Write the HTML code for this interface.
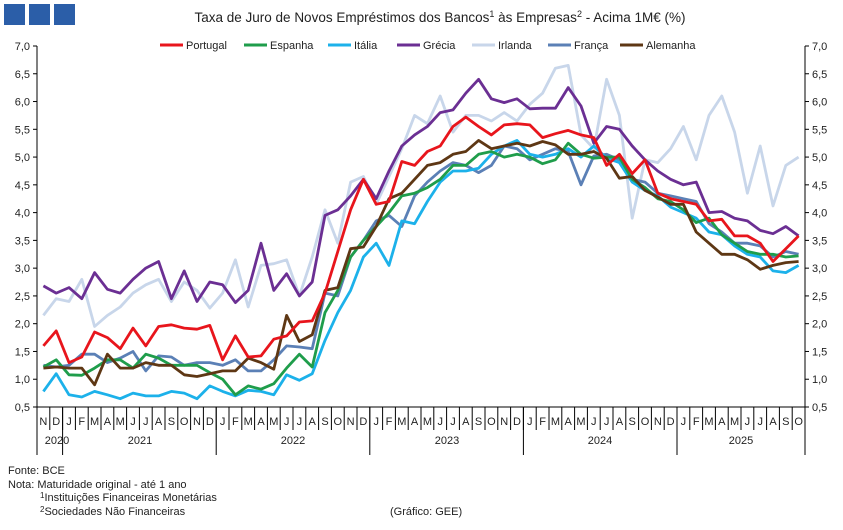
<!DOCTYPE html>
<html><head><meta charset="utf-8"><style>
body{margin:0;background:#fff;width:843px;height:525px;overflow:hidden;font-family:"Liberation Sans",sans-serif}
svg text{font-family:"Liberation Sans",sans-serif;fill:#222}
</style></head><body>
<svg id="s" width="843" height="525" xmlns="http://www.w3.org/2000/svg">
<rect x="4" y="4" width="21" height="21" fill="#2b5ea8"/>
<rect x="29" y="4" width="21" height="21" fill="#2b5ea8"/>
<rect x="54" y="4" width="21" height="21" fill="#2b5ea8"/>
<text x="440" y="22" font-size="13.5" text-anchor="middle">Taxa de Juro de Novos Empréstimos dos Bancos<tspan font-size="9" dy="-5">1</tspan><tspan dy="5"> às Empresas</tspan><tspan font-size="9" dy="-5">2</tspan><tspan dy="5"> - Acima 1M€ (%)</tspan></text>
<g font-size="11">
<text x="8" y="474">Fonte: BCE</text>
<text x="8" y="488">Nota:  Maturidade original - até 1 ano</text>
<text x="40" y="501"><tspan font-size="8" dy="-3">1</tspan><tspan dy="3">Instituições Financeiras Monetárias</tspan></text>
<text x="40" y="515"><tspan font-size="8" dy="-3">2</tspan><tspan dy="3">Sociedades Não Financeiras</tspan></text>
<text x="390" y="515">(Gráfico: GEE)</text>
</g>
<g id="ax"></g><g id="ln"></g><g id="lg"></g>
</svg>
<script>
var ns="http://www.w3.org/2000/svg";
function el(p,t,a,txt){var e=document.createElementNS(ns,t);for(var k in a)e.setAttribute(k,a[k]);if(txt!==undefined)e.textContent=txt;p.appendChild(e);return e;}
var ax=document.getElementById('ax'),ln=document.getElementById('ln'),lg=document.getElementById('lg');
function Y(v){return 407-(v-0.5)*55.54;}
function X(i){return 43.4+12.8*i;}
el(ax,'line',{x1:37,y1:46,x2:37,y2:407,stroke:'#000'});
el(ax,'line',{x1:805,y1:46,x2:805,y2:407,stroke:'#000'});
el(ax,'line',{x1:37,y1:407,x2:805,y2:407,stroke:'#000'});
for(var v=0.5;v<=7.01;v+=0.5){var y=Y(v),s=v.toFixed(1).replace('.',',');
el(ax,'line',{x1:33,y1:y,x2:37,y2:y,stroke:'#000'});el(ax,'line',{x1:805,y1:y,x2:809,y2:y,stroke:'#000'});
el(ax,'text',{x:30,y:y+4,'font-size':11,'text-anchor':'end'},s);el(ax,'text',{x:812,y:y+4,'font-size':11},s);}
var m="NDJFMAMJJASONDJFMAMJJASONDJFMAMJJASONDJFMAMJJASONDJFMAMJJASO";
for(var i=0;i<60;i++){el(ax,'text',{x:X(i),y:425,'font-size':11,'text-anchor':'middle'},m[i]);
var xb=37+12.8*i;if(i>0)el(ax,'line',{x1:xb,y1:407,x2:xb,y2:430,stroke:'#000'});}
[37,62.6,216.2,369.8,523.4,677,805].forEach(function(x){el(ax,'line',{x1:x,y1:407,x2:x,y2:455,stroke:'#000'});});
[[57,'2020'],[140,'2021'],[293,'2022'],[447,'2023'],[600,'2024'],[741,'2025']].forEach(function(a){el(ax,'text',{x:a[0],y:444,'font-size':11,'text-anchor':'middle'},a[1]);});
var S=[
['Irlanda','#c8d6ea',[2.15,2.45,2.4,2.8,1.95,2.15,2.3,2.55,2.7,2.8,2.4,2.75,2.6,2.28,2.55,3.15,2.3,3.05,3.08,3.15,2.5,3.2,4.05,3.45,4.55,4.65,4.15,4.65,5.15,5.75,5.6,6.1,5.45,5.75,5.75,5.65,5.8,5.65,5.95,6.15,6.6,6.65,5.4,5.15,6.4,5.75,3.9,4.95,4.9,5.15,5.55,4.95,5.75,6.1,5.45,4.35,5.2,4.12,4.85,5.0]],
['França','#5b80b6',[1.25,1.22,1.25,1.45,1.45,1.3,1.38,1.5,1.15,1.42,1.4,1.25,1.3,1.3,1.25,1.35,1.15,1.15,1.35,1.6,1.58,1.55,2.55,2.5,3.2,3.5,3.85,3.95,3.75,4.3,4.55,4.75,4.9,4.85,4.72,4.85,5.2,5.15,4.95,5.05,5.15,5.1,4.5,5.02,5.05,4.95,4.6,4.55,4.35,4.3,4.25,4.2,3.8,3.65,3.45,3.45,3.4,3.2,3.3,3.25]],
['Grécia','#6b2f93',[2.68,2.55,2.65,2.45,2.92,2.62,2.55,2.8,3.0,3.12,2.45,2.95,2.4,2.75,2.7,2.38,2.6,3.45,2.6,2.9,2.5,2.75,3.95,4.05,4.3,4.6,4.25,4.75,5.2,5.4,5.55,5.8,5.85,6.15,6.4,6.05,5.98,6.05,5.87,5.88,5.88,6.25,5.92,5.25,5.55,5.5,5.2,4.95,4.75,4.6,4.5,4.55,4.0,4.02,3.9,3.85,3.68,3.62,3.75,3.58]],
['Itália','#1cb1ea',[0.78,1.1,0.72,0.68,0.78,0.72,0.65,0.75,0.7,0.7,0.78,0.75,0.65,0.88,0.78,0.7,0.8,0.78,0.72,1.08,0.98,1.1,1.7,2.2,2.6,3.2,3.45,3.05,3.85,3.8,4.2,4.55,4.75,4.75,4.8,5.05,5.2,5.3,5.05,5.0,5.05,5.15,5.0,5.2,4.98,4.9,4.55,4.4,4.3,4.1,4.0,3.9,3.65,3.6,3.4,3.25,3.2,2.95,2.92,3.05]],
['Espanha','#1f9d4b',[1.22,1.35,1.08,1.07,1.2,1.35,1.35,1.2,1.45,1.38,1.25,1.25,1.25,1.12,1.0,0.72,0.88,0.82,0.92,1.2,1.45,1.22,2.2,2.6,3.2,3.5,3.75,4.0,4.3,4.35,4.45,4.6,4.85,4.85,5.05,5.1,5.0,5.05,5.0,4.88,4.95,5.25,5.05,4.98,5.0,5.0,4.6,4.45,4.25,4.2,4.05,3.82,3.9,3.6,3.45,3.3,3.25,3.25,3.2,3.22]],
['Alemanha','#5e3714',[1.2,1.22,1.2,1.2,0.9,1.45,1.2,1.2,1.3,1.25,1.25,1.08,1.05,1.1,1.15,1.15,1.38,1.3,1.18,2.15,1.68,1.8,2.6,2.65,3.35,3.38,3.75,4.25,4.35,4.6,4.85,4.9,5.05,5.1,5.3,5.15,5.2,5.25,5.2,5.28,5.22,5.05,5.05,5.1,4.98,4.62,4.65,4.4,4.28,4.15,4.15,3.65,3.45,3.25,3.25,3.15,2.98,3.05,3.1,3.12]],
['Portugal','#e8151c',[1.6,1.87,1.3,1.4,1.85,1.75,1.55,1.92,1.6,1.95,1.98,1.92,1.9,1.97,1.35,1.78,1.4,1.42,1.72,1.78,2.03,2.05,2.55,3.3,4.05,4.6,4.15,4.2,4.92,4.85,5.1,5.2,5.55,5.72,5.55,5.4,5.58,5.6,5.58,5.35,5.42,5.48,5.4,5.35,4.85,5.05,4.7,4.95,4.35,4.25,4.2,4.15,3.85,3.88,3.58,3.58,3.45,3.12,3.35,3.58]]
];
S.forEach(function(s){el(ln,'polyline',{points:s[2].map(function(v,i){return X(i).toFixed(1)+','+Y(v).toFixed(1)}).join(' '),fill:'none',stroke:s[1],'stroke-width':2.8,'stroke-linejoin':'round'});});
var L=[['Portugal','#e8151c',160],['Espanha','#1f9d4b',244],['Itália','#1cb1ea',328],['Grécia','#6b2f93',397],['Irlanda','#c8d6ea',472],['França','#5b80b6',548],['Alemanha','#5e3714',620]];
L.forEach(function(l){el(lg,'line',{x1:l[2],y1:45,x2:l[2]+23,y2:45,stroke:l[1],'stroke-width':3});el(lg,'text',{x:l[2]+26,y:49,'font-size':11},l[0]);});
</script>
</body></html>
